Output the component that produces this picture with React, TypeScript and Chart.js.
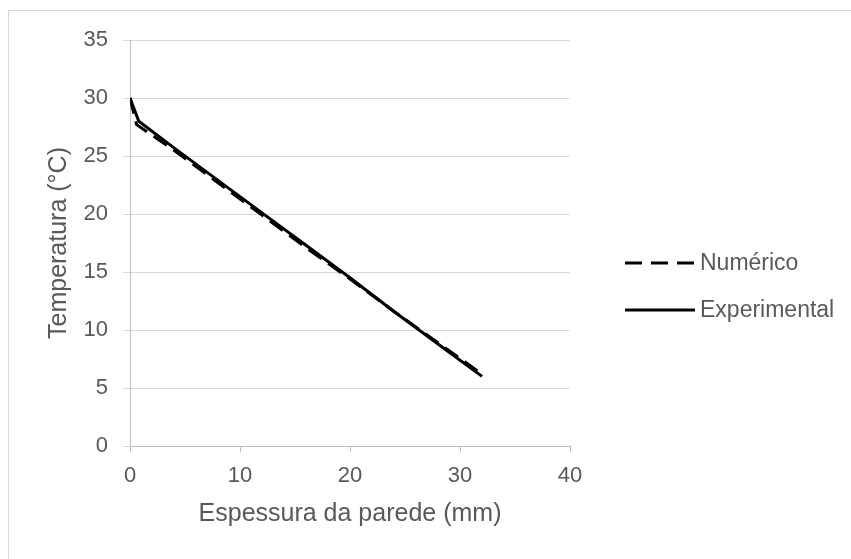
import React, { useEffect, useRef } from "react";
import { Chart, registerables } from "chart.js";

Chart.register(...registerables);

const seriesNames = ["Numérico", "Experimental"];
const xNumerico = [0, 0.6, 4, 8, 12, 16, 20, 24, 28, 32];
const yNumerico = [30, 27.7, 25.5, 22.7, 19.9, 17.1, 14.4, 11.6, 8.9, 6.2];
const xExperimental = [0, 0.8, 4, 8, 12, 16, 20, 24, 28, 32];
const yExperimental = [30, 28.0, 25.7, 22.9, 20.1, 17.3, 14.5, 11.6, 8.8, 6.0];
const xTicks = [0, 10, 20, 30, 40];
const yTicks = [0, 5, 10, 15, 20, 25, 30, 35];
const xTitle = "Espessura da parede (mm)";
const yTitle = "Temperatura (°C)";

const FONT = '"Liberation Sans", Arial, sans-serif';
const TEXT = "#595959";

const legendPlugin = {
  id: "customLegend",
  afterDraw(chart: any) {
    const ctx = chart.ctx as CanvasRenderingContext2D;
    ctx.save();
    chart.data.datasets.forEach((ds: any, i: number) => {
      const y = 252 + i * 47;
      ctx.strokeStyle = "#000000";
      ctx.lineWidth = 3;
      ctx.setLineDash(ds.legendDash || []);
      ctx.beginPath();
      ctx.moveTo(616, y);
      ctx.lineTo(686, y);
      ctx.stroke();
      ctx.setLineDash([]);
      ctx.fillStyle = TEXT;
      ctx.font = `23px ${FONT}`;
      ctx.textBaseline = "middle";
      ctx.textAlign = "left";
      ctx.fillText(ds.label, 691, y + 1);
    });
    ctx.restore();
  },
};

export default function App() {
  const ref = useRef<HTMLCanvasElement>(null);
  useEffect(() => {
    const chart = new Chart(ref.current!, {
      type: "scatter",
      data: {
        datasets: [
          {
            label: seriesNames[0],
            data: xNumerico.map((x, i) => ({ x, y: yNumerico[i] })),
            showLine: true,
            borderColor: "#000000",
            backgroundColor: "#000000",
            borderWidth: 3,
            borderDash: [16, 8],
            legendDash: [17, 9],
            pointRadius: 0,
            tension: 0,
            order: 1,
          },
          {
            label: seriesNames[1],
            data: xExperimental.map((x, i) => ({ x, y: yExperimental[i] })),
            showLine: true,
            borderColor: "#000000",
            backgroundColor: "#000000",
            borderWidth: 3,
            pointRadius: 0,
            tension: 0,
            order: 0,
          },
        ],
      },
      options: {
        animation: false,
        responsive: true,
        maintainAspectRatio: false,
        layout: { padding: { left: 0, right: 281, top: 29, bottom: 0 } },
        plugins: { legend: { display: false }, tooltip: { enabled: false } },
        scales: {
          x: {
            type: "linear",
            min: 0,
            max: 40,
            afterBuildTicks: (s: any) => {
              s.ticks = xTicks.map((v) => ({ value: v }));
            },
            afterFit: (s: any) => {
              s.height = 113;
            },
            ticks: { font: { size: 22, family: FONT }, color: TEXT, padding: 11 },
            grid: { drawOnChartArea: false, drawTicks: true, tickLength: 6, color: "#bfbfbf" },
            border: { display: true, color: "#bfbfbf", width: 1 },
            title: {
              display: true,
              text: xTitle,
              font: { size: 25, family: FONT },
              color: TEXT,
              padding: { top: 0, bottom: 30 },
            },
          },
          y: {
            type: "linear",
            min: 0,
            max: 35,
            afterBuildTicks: (s: any) => {
              s.ticks = yTicks.map((v) => ({ value: v }));
            },
            afterFit: (s: any) => {
              s.width = 121;
            },
            ticks: { font: { size: 22, family: FONT }, color: TEXT, padding: 15 },
            grid: { drawOnChartArea: true, drawTicks: true, tickLength: 7, color: "#d9d9d9" },
            border: { display: true, color: "#bfbfbf", width: 1 },
            title: {
              display: true,
              text: yTitle,
              font: { size: 25, family: FONT },
              color: TEXT,
              padding: { top: 35, bottom: 0 },
            },
          },
        },
      },
      plugins: [legendPlugin],
    } as any);
    return () => chart.destroy();
  }, []);
  return (
    <div
      style={{
        position: "absolute",
        left: 8,
        top: 10,
        width: 843,
        height: 549,
        borderTop: "1px solid #d9d9d9",
        borderLeft: "1px solid #d9d9d9",
        boxSizing: "border-box",
        background: "#ffffff",
      }}
    >
      <div style={{ position: "relative", width: 842, height: 548 }}>
        <canvas ref={ref} />
      </div>
    </div>
  );
}
